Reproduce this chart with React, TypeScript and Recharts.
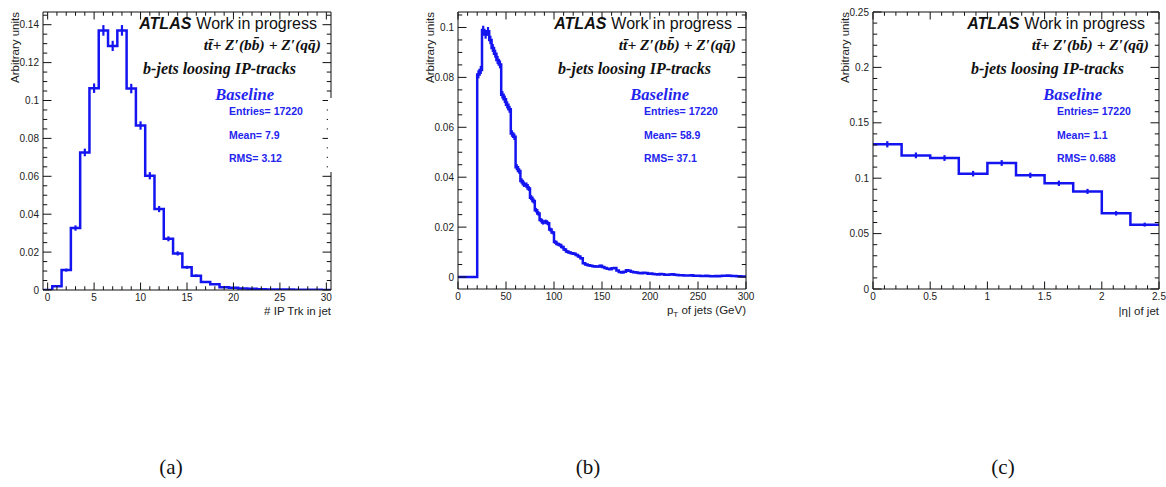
import React from 'react';
import { ComposedChart, Line, Scatter, ErrorBar, XAxis, YAxis } from 'recharts';

const BLUE = '#1414f0';
const TEXT_BLUE = '#2424ee';
const SANS = '"Liberation Sans", Arial, Helvetica, sans-serif';
const SERIF = '"Liberation Serif", "Times New Roman", serif';

// ---------------- Panel (a): # IP Trk in jet ----------------
const aBinLow = -0.5;
const aBinWidth = 1;
const aValues = [0, 0.002, 0.0105, 0.0327, 0.0726, 0.1065, 0.137, 0.1288, 0.137, 0.1063, 0.0868, 0.0603, 0.0427, 0.027, 0.0193, 0.012, 0.0075, 0.0042, 0.003, 0.0015, 0.0012, 0.0008, 0.0006, 0.0004, 0.0003, 0.0002, 0.0002, 0.0001, 0.0001, 0.0001, 0];
const aErrors = [0, 0.0003, 0.0008, 0.0014, 0.002, 0.0025, 0.0028, 0.0027, 0.0028, 0.0025, 0.0022, 0.0019, 0.0016, 0.0013, 0.0011, 0.0008, 0.0007, 0.0005, 0.0004, 0.0003, 0.0003, 0.0002, 0.0002, 0.00015, 0.00013, 0.0001, 0.0001, 0.0001, 0.0001, 0.0001, 0];
const aXMajor = [0, 5, 10, 15, 20, 25, 30];
const aXLabels = ['0', '5', '10', '15', '20', '25', '30'];
const aYMajor = [0, 0.02, 0.04, 0.06, 0.08, 0.1, 0.12, 0.14];
const aYLabels = ['0', '0.02', '0.04', '0.06', '0.08', '0.1', '0.12', '0.14'];
const aXTitle = '# IP Trk in jet';
const aStats = ['Entries= 17220', 'Mean= 7.9', 'RMS= 3.12'];

// ---------------- Panel (b): pT of jets ----------------
const bBinLow = 0;
const bBinWidth = 2.5;
const bValues = [
  0, 0, 0, 0, 0, 0, 0, 0,
  0.0812, 0.083, 0.099, 0.0972, 0.0985, 0.095, 0.0918, 0.0895, 0.087, 0.0852,
  0.073, 0.0712, 0.069, 0.0672, 0.0575, 0.0562, 0.044, 0.0425, 0.0385, 0.0372,
  0.0368, 0.0355, 0.0318, 0.0305, 0.0268, 0.0255, 0.0228, 0.0218, 0.0222, 0.0215,
  0.019, 0.0178, 0.014, 0.0132, 0.0128, 0.012, 0.011, 0.0102, 0.0098, 0.0095,
  0.0093, 0.0088, 0.0082, 0.0075, 0.0055, 0.005, 0.0047, 0.0045, 0.0043, 0.0042,
  0.0042, 0.0045, 0.004, 0.0036, 0.0033, 0.0031, 0.0035, 0.0036, 0.0026, 0.002,
  0.0018, 0.0021, 0.0027, 0.0025, 0.0021, 0.0019, 0.0018, 0.0016, 0.0015, 0.0017,
  0.0016, 0.0013, 0.0014, 0.0012, 0.0011, 0.001, 0.0012, 0.0011, 0.0009, 0.0009,
  0.001, 0.0011, 0.0009, 0.0008, 0.0007, 0.0007, 0.0006, 0.0006, 0.0006, 0.0007,
  0.0005, 0.0005, 0.0005, 0.0004, 0.0004, 0.0005, 0.0004, 0.0003, 0.0003, 0.0004,
  0.0003, 0.0004, 0.0005, 0.0005, 0.0006, 0.0005, 0.0004, 0.0004, 0.0003, 0.0003,
  0.0002, 0.0002,
];
const bErrors = [
  0, 0, 0, 0, 0, 0, 0, 0,
  0.0016, 0.0016, 0.0017, 0.0017, 0.0017, 0.0017, 0.0016, 0.0016, 0.0016, 0.0016,
  0.0015, 0.0015, 0.0014, 0.0014, 0.0013, 0.0013, 0.0012, 0.0011, 0.0011, 0.0011,
  0.0011, 0.001, 0.001, 0.001, 0.0009, 0.0009, 0.0008, 0.0008, 0.0008, 0.0008,
  0.0008, 0.0007, 0.0007, 0.0006, 0.0006, 0.0006, 0.0006, 0.0006, 0.0005, 0.0005,
  0.0005, 0.0005, 0.0005, 0.0005, 0.0004, 0.0004, 0.0004, 0.0004, 0.0004, 0.0004,
  0.0004, 0.0004, 0.0003, 0.0003, 0.0003, 0.0003, 0.0003, 0.0003, 0.00025, 0.00025,
  0.00025, 0.00025, 0.00025, 0.00025, 0.00025, 0.00025, 0.00025, 0.00025, 0.00025, 0.00025,
  0.00025, 0.00025, 0.0002, 0.0002, 0.0002, 0.0002, 0.0002, 0.0002, 0.0002, 0.0002,
  0.0002, 0.0002, 0.0002, 0.0002, 0.0002, 0.0002, 0.0002, 0.0002, 0.0002, 0.0002,
  0.0002, 0.0002, 0.00015, 0.00015, 0.00015, 0.00015, 0.00015, 0.00015, 0.00015, 0.00015,
  0.00015, 0.00015, 0.00015, 0.00015, 0.00015, 0.00015, 0.00015, 0.00015, 0.00015, 0.00015,
  0.00015, 0.00015,
];
const bXMajor = [0, 50, 100, 150, 200, 250, 300];
const bXLabels = ['0', '50', '100', '150', '200', '250', '300'];
const bYMajor = [0, 0.02, 0.04, 0.06, 0.08, 0.1];
const bYLabels = ['0', '0.02', '0.04', '0.06', '0.08', '0.1'];
const bStats = ['Entries= 17220', 'Mean= 58.9', 'RMS= 37.1'];

// ---------------- Panel (c): |eta| of jet ----------------
const cBinLow = 0;
const cBinWidth = 0.25;
const cValues = [0.1306, 0.1206, 0.1182, 0.1041, 0.1137, 0.1026, 0.0954, 0.0881, 0.0683, 0.0581];
const cErrors = [0.0028, 0.0026, 0.0026, 0.0025, 0.0026, 0.0024, 0.0024, 0.0023, 0.002, 0.0018];
const cXMajor = [0, 0.5, 1, 1.5, 2, 2.5];
const cXLabels = ['0', '0.5', '1', '1.5', '2', '2.5'];
const cYMajor = [0, 0.05, 0.1, 0.15, 0.2, 0.25];
const cYLabels = ['0', '0.05', '0.1', '0.15', '0.2', '0.25'];
const cXTitle = '|\u03b7| of jet';
const cStats = ['Entries= 17220', 'Mean= 1.1', 'RMS= 0.688'];

// shared texts
const yTitle = 'Arbitrary units';
const atlasText = 'ATLAS';
const wipText = 'Work in progress';
const processText = 'tt\u0304+ Z\u2032(bb\u0304) + Z\u2032(qq\u0304)';
const selectionText = 'b-jets loosing IP-tracks';
const baselineText = 'Baseline';
const captions = ['(a)', '(b)', '(c)'];

// ---------------- helpers ----------------
function range(a: number, b: number, s: number): number[] {
  const out: number[] = [];
  const n = Math.round((b - a) / s);
  for (let i = 0; i <= n; i++) out.push(+(a + i * s).toFixed(6));
  return out;
}
const near = (p: number, q: number) => Math.abs(p - q) < 1e-7;
function minors(all: number[], majors: number[]) {
  return all.filter((v) => !majors.some((m) => near(m, v)));
}
function stepData(lo: number, w: number, values: number[]) {
  const pts = values.map((v, i) => ({ x: lo + i * w, y: v }));
  pts.push({ x: lo + values.length * w, y: values[values.length - 1] });
  return pts;
}
function centerData(lo: number, w: number, values: number[], errors: number[]) {
  return values
    .map((v, i) => ({ x: lo + (i + 0.5) * w, y: v, err: errors[i] }))
    .filter((d) => d.y > 0);
}

type Side = 'bottom' | 'top' | 'left' | 'right';
function makeTick(side: Side, majors: number[], labels: string[] | null, majLen: number, minLen: number) {
  return (props: any) => {
    const { x, y, payload } = props;
    const v = payload.value;
    const idx = majors.findIndex((m) => near(m, v));
    const len = idx >= 0 ? majLen : minLen;
    let line: any = null;
    if (side === 'bottom') line = <line x1={x} y1={y} x2={x} y2={y - len} stroke="#111" strokeWidth={1} />;
    if (side === 'top') line = <line x1={x} y1={y} x2={x} y2={y + len} stroke="#111" strokeWidth={1} />;
    if (side === 'left') line = <line x1={x} y1={y} x2={x + len} y2={y} stroke="#111" strokeWidth={1} />;
    if (side === 'right') line = <line x1={x} y1={y} x2={x - len} y2={y} stroke="#111" strokeWidth={1} />;
    let label: any = null;
    if (labels && idx >= 0) {
      if (side === 'bottom')
        label = (
          <text x={x} y={y + 10.5} textAnchor="middle" fontFamily={SANS} fontSize={10} fill="#222">
            {labels[idx]}
          </text>
        );
      if (side === 'left')
        label = (
          <text x={x - 4} y={y + 3.5} textAnchor="end" fontFamily={SANS} fontSize={10} fill="#222">
            {labels[idx]}
          </text>
        );
    }
    return (
      <g>
        {line}
        {label}
      </g>
    );
  };
}

type Frame = { l: number; r: number; t: number; b: number };
type PanelProps = {
  frame: Frame;
  xDomain: [number, number];
  yDomain: [number, number];
  xMajor: number[];
  xMinor: number[];
  xLabels: string[];
  yMajor: number[];
  yMinor: number[];
  yLabels: string[];
  line: { x: number; y: number }[];
  centers: { x: number; y: number; err: number }[];
};

function Panel(p: PanelProps) {
  const ML = 50;
  const MR = 14;
  const H = 330;
  const W = p.frame.r - p.frame.l + ML + MR;
  const xTicks = [...p.xMajor, ...p.xMinor].sort((a, b) => a - b);
  const yTicks = [...p.yMajor, ...p.yMinor].sort((a, b) => a - b);
  const axisLine = { stroke: '#111', strokeWidth: 1 };
  return (
    <div style={{ position: 'absolute', left: p.frame.l - ML, top: 0, width: W, height: H }}>
      <ComposedChart
        width={W}
        height={H}
        margin={{ top: p.frame.t - 1, right: MR - 1, bottom: H - p.frame.b - 1, left: ML - 1 }}
      >
        <XAxis
          xAxisId="b"
          type="number"
          dataKey="x"
          domain={p.xDomain}
          allowDataOverflow
          ticks={xTicks}
          interval={0}
          height={1}
          tickSize={0}
          tickMargin={0}
          tickLine={false}
          axisLine={axisLine}
          tick={makeTick('bottom', p.xMajor, p.xLabels, 7.5, 3.75)}
        />
        <XAxis
          xAxisId="t"
          orientation="top"
          type="number"
          dataKey="x"
          domain={p.xDomain}
          allowDataOverflow
          ticks={xTicks}
          interval={0}
          height={1}
          tickSize={0}
          tickMargin={0}
          tickLine={false}
          axisLine={axisLine}
          tick={makeTick('top', p.xMajor, null, 7.5, 3.75)}
        />
        <YAxis
          yAxisId="l"
          type="number"
          dataKey="y"
          domain={p.yDomain}
          allowDataOverflow
          ticks={yTicks}
          interval={0}
          width={1}
          tickSize={0}
          tickMargin={0}
          tickLine={false}
          axisLine={axisLine}
          tick={makeTick('left', p.yMajor, p.yLabels, 8.5, 4.25)}
        />
        <YAxis
          yAxisId="r"
          orientation="right"
          type="number"
          dataKey="y"
          domain={p.yDomain}
          allowDataOverflow
          ticks={yTicks}
          interval={0}
          width={1}
          tickSize={0}
          tickMargin={0}
          tickLine={false}
          axisLine={axisLine}
          tick={makeTick('right', p.yMajor, null, 8.5, 4.25)}
        />
        <Line
          xAxisId="b"
          yAxisId="l"
          data={p.line}
          dataKey="y"
          type="stepAfter"
          stroke={BLUE}
          strokeWidth={2.5}
          dot={false}
          activeDot={false}
          isAnimationActive={false}
        />
        <Scatter
          xAxisId="b"
          yAxisId="l"
          data={p.centers}
          dataKey="y"
          shape={() => <g />}
          isAnimationActive={false}
        >
          <ErrorBar dataKey="err" direction="y" width={0} stroke={BLUE} strokeWidth={2.2} isAnimationActive={false} />
        </Scatter>
      </ComposedChart>
    </div>
  );
}

const frames: Frame[] = [
  { l: 43, r: 331, t: 12, b: 290 },
  { l: 458, r: 746, t: 12, b: 289 },
  { l: 873, r: 1159, t: 12, b: 289 },
];
const xTitles = [aXTitle, null, cXTitle];
const statsList = [aStats, bStats, cStats];
const captionX = [171, 588, 1003];

function PanelTexts({ f, i }: { f: Frame; i: number }) {
  const R = f.r;
  const stats = statsList[i];
  return (
    <g>
      <text x={R - 14} y={28.5} textAnchor="end" fontFamily={SANS} fontSize={16} fill="#111">
        <tspan fontWeight="bold" fontStyle="italic">{atlasText}</tspan>
        <tspan dx={5}>{wipText}</tspan>
      </text>
      <text x={R - 10} y={50} textAnchor="end" fontFamily={SERIF} fontSize={15.5} fontWeight="bold" fontStyle="italic" fill="#111">
        {processText}
      </text>
      <text x={R - 35} y={74} textAnchor="end" fontFamily={SERIF} fontSize={16} fontWeight="bold" fontStyle="italic" fill="#111">
        {selectionText}
      </text>
      <text x={R - 57} y={99.5} textAnchor="end" fontFamily={SERIF} fontSize={16.5} fontWeight="bold" fontStyle="italic" fill={TEXT_BLUE}>
        {baselineText}
      </text>
      {stats.map((s, k) => (
        <text key={k} x={R - 102} y={[114.5, 138.5, 161.5][k]} fontFamily={SANS} fontSize={10.5} fontWeight="bold" fill={TEXT_BLUE}>
          {s}
        </text>
      ))}
      <text
        transform={`translate(${f.l - 24.5}, ${f.t}) rotate(-90)`}
        textAnchor="end"
        fontFamily={SANS}
        fontSize={11.5}
        fill="#222"
      >
        {yTitle}
      </text>
      {xTitles[i] !== null ? (
        <text x={R} y={314.5} textAnchor="end" fontFamily={SANS} fontSize={11.5} fill="#222">
          {xTitles[i]}
        </text>
      ) : (
        <text x={R} y={313.5} textAnchor="end" fontFamily={SANS} fontSize={11.5} fill="#222">
          <tspan>p</tspan>
          <tspan fontSize={8} dy={3}>T</tspan>
          <tspan dy={-3}> of jets (GeV)</tspan>
        </text>
      )}
      <text x={captionX[i]} y={474} textAnchor="middle" fontFamily={SERIF} fontSize={21} fill="#111">
        {captions[i]}
      </text>
    </g>
  );
}

export default function App() {
  const aLine = stepData(aBinLow, aBinWidth, aValues);
  const bLine = stepData(bBinLow, bBinWidth, bValues);
  const cLine = stepData(cBinLow, cBinWidth, cValues);
  return (
    <div style={{ position: 'absolute', left: 0, top: 0, width: 1166, height: 487, background: '#fff', overflow: 'hidden' }}>
      <Panel
        frame={frames[0]}
        xDomain={[-0.5, 30.5]}
        yDomain={[0, 0.1467]}
        xMajor={aXMajor}
        xMinor={minors(range(0, 30, 1), aXMajor)}
        xLabels={aXLabels}
        yMajor={aYMajor}
        yMinor={minors(range(0, 0.145, 0.005), aYMajor)}
        yLabels={aYLabels}
        line={aLine}
        centers={centerData(aBinLow, aBinWidth, aValues, aErrors)}
      />
      <Panel
        frame={frames[1]}
        xDomain={[0, 300]}
        yDomain={[-0.0048, 0.1062]}
        xMajor={bXMajor}
        xMinor={minors(range(0, 300, 10), bXMajor)}
        xLabels={bXLabels}
        yMajor={bYMajor}
        yMinor={minors(range(0, 0.105, 0.005), bYMajor)}
        yLabels={bYLabels}
        line={bLine}
        centers={centerData(bBinLow, bBinWidth, bValues, bErrors)}
      />
      <Panel
        frame={frames[2]}
        xDomain={[0, 2.5]}
        yDomain={[0, 0.25]}
        xMajor={cXMajor}
        xMinor={minors(range(0, 2.5, 0.1), cXMajor)}
        xLabels={cXLabels}
        yMajor={cYMajor}
        yMinor={minors(range(0, 0.25, 0.01), cYMajor)}
        yLabels={cYLabels}
        line={cLine}
        centers={centerData(cBinLow, cBinWidth, cValues, cErrors)}
      />
      <svg
        width={1166}
        height={487}
        style={{ position: 'absolute', left: 0, top: 0, pointerEvents: 'none' }}
      >
        <rect x={328} y={98} width={6} height={74} fill="#fff" />
        {frames.map((f, i) => (
          <PanelTexts key={i} f={f} i={i} />
        ))}
      </svg>
    </div>
  );
}
